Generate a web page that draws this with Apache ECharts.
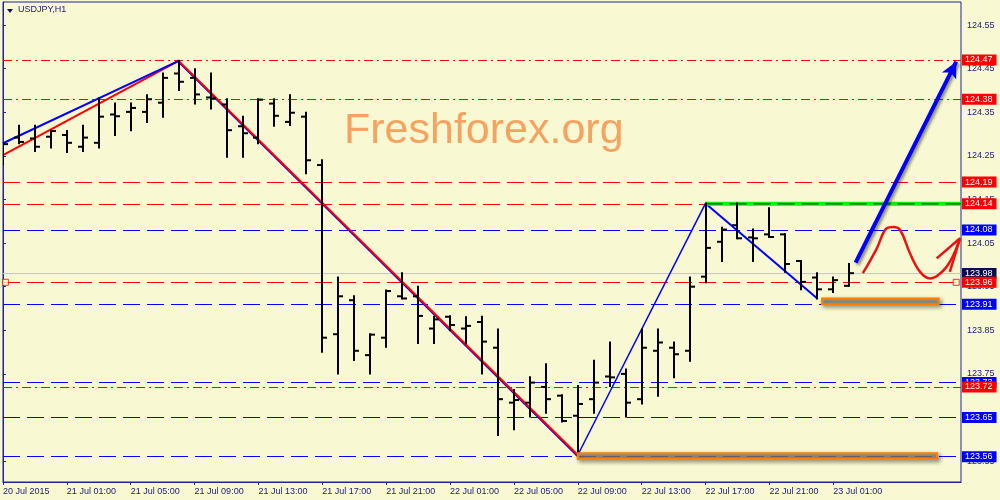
<!DOCTYPE html>
<html>
<head>
<meta charset="utf-8">
<script src="https://cdn.jsdelivr.net/npm/echarts@6.0.0/dist/echarts.min.js"></script>
<style>
  html, body { margin: 0; padding: 0; background: #f8f8d2; }
  #chart { width: 1000px; height: 500px; }
</style>
</head>
<body>
<div id="chart"></div>
<script>
// USDJPY H1, one bar per hour, bar 0 = 20 Jul 21:00
const timeLabels = ['20 Jul 2015', '21 Jul 01:00', '21 Jul 05:00', '21 Jul 09:00', '21 Jul 13:00',
  '21 Jul 17:00', '21 Jul 21:00', '22 Jul 01:00', '22 Jul 05:00', '22 Jul 09:00',
  '22 Jul 13:00', '22 Jul 17:00', '22 Jul 21:00', '23 Jul 01:00'];
const timeTicks = [0, 4, 8, 12, 16, 20, 24, 28, 32, 36, 40, 44, 48, 52];
const priceTicks = [123.55, 123.65, 123.75, 123.85, 123.95, 124.05, 124.15, 124.25, 124.35, 124.45, 124.55];

const opens = [124.245, 124.292, 124.290, 124.294, 124.298, 124.271, 124.280, 124.345, 124.351, 124.351,
  124.372, 124.439, 124.429, 124.384, 124.368, 124.318, 124.292, 124.370, 124.328, 124.340,
  124.229, 123.841, 123.919, 123.793, 123.833, 123.928, 123.928, 123.854, 123.881, 123.854,
  123.869, 123.810, 123.684, 123.684, 123.720, 123.700, 123.654, 123.692, 123.744, 123.750,
  123.692, 123.803, 123.810, 123.803, 123.973, 124.053, 124.091, 124.063, 124.070, 124.070,
  124.009, 123.971, 123.944, 123.952];
const highs = [124.279, 124.319, 124.319, 124.307, 124.307, 124.319, 124.382, 124.370, 124.370, 124.389,
  124.439, 124.468, 124.449, 124.439, 124.380, 124.340, 124.380, 124.380, 124.389, 124.349,
  124.240, 123.971, 123.928, 123.841, 123.941, 123.981, 123.950, 123.881, 123.882, 123.880,
  123.881, 123.852, 123.713, 123.742, 123.772, 123.701, 123.722, 123.780, 123.822, 123.760,
  123.852, 123.852, 123.822, 123.971, 124.141, 124.085, 124.141, 124.081, 124.130, 124.070,
  124.009, 123.981, 123.971, 124.002];
const lows = [124.231, 124.279, 124.261, 124.269, 124.259, 124.261, 124.269, 124.298, 124.309, 124.328,
  124.340, 124.401, 124.370, 124.359, 124.248, 124.248, 124.279, 124.319, 124.321, 124.210,
  123.801, 123.751, 123.782, 123.751, 123.812, 123.923, 123.821, 123.821, 123.850, 123.820,
  123.751, 123.610, 123.623, 123.652, 123.661, 123.641, 123.564, 123.661, 123.722, 123.652,
  123.682, 123.700, 123.742, 123.780, 123.960, 124.009, 124.061, 124.009, 124.064, 123.984,
  123.944, 123.923, 123.938, 123.952];
const closes = [124.277, 124.282, 124.271, 124.307, 124.280, 124.292, 124.340, 124.341, 124.360, 124.380,
  124.429, 124.420, 124.391, 124.382, 124.309, 124.302, 124.379, 124.342, 124.349, 124.240,
  123.833, 123.928, 123.803, 123.840, 123.940, 123.923, 123.883, 123.875, 123.862, 123.860,
  123.824, 123.692, 123.690, 123.730, 123.692, 123.642, 123.681, 123.730, 123.742, 123.684,
  123.810, 123.822, 123.795, 123.950, 124.039, 124.081, 124.061, 124.061, 124.064, 124.002,
  123.961, 123.944, 123.965, 123.981];

// horizontal levels
const redDashDotLevels = [124.47, 124.38, 123.72];
const redDashLevels = [124.19, 124.14, 123.96];
const blueDashLevels = [124.08, 123.91, 123.73, 123.65, 123.56];
const bidPrice = 123.98;

// drawn objects [barIndex, price]
const upRedLine = [[0, 124.252], [11, 124.468]];
const upBlueLine = [[0, 124.279], [11, 124.468]];
const downBlueLine = [[11, 124.466], [36, 123.561]];
const downRedLine = [[11, 124.468], [36, 123.564]];
const riseLine = [[36, 123.564], [44, 124.141]];
const pullbackLine = [[44, 124.141], [51, 123.923]];
const resistLine = [[44, 124.14], [60, 124.14]];
const forecastArrow = [[53.4, 124.005], [59.7, 124.466]];
const scenarioPath = [[53.85, 123.981], [54.25, 124.006], [54.73, 124.038], [55.35, 124.084],
  [55.77, 124.087], [56.19, 124.080], [56.81, 124.026], [57.44, 123.984], [58.06, 123.969],
  [58.58, 123.977], [59.11, 123.996], [59.52, 124.022], [59.94, 124.061]];
const scenarioHead = [[58.48, 124.015], [59.94, 124.061], [59.3, 123.984]];
const supportBoxes = [[[51.3, 123.923], [58.6, 123.910]], [[36, 123.568], [58.5, 123.555]]];
const selMarks = [[0.15, 123.96], [59.7, 123.96]];

const FONT = 'Liberation Sans';
const NAVY = '#1a1a78';
const FRAME = '#2222a0';

function levelLine(v, color, type, bg) {
  return {
    yAxis: v,
    lineStyle: { color: color, type: type, width: 1 },
    label: {
      show: true, position: 'end', distance: 1, formatter: v.toFixed(2),
      color: '#fff', backgroundColor: bg, fontFamily: FONT, fontSize: 9,
      lineHeight: 10, padding: [0, 4, 1, 3]
    }
  };
}

const levelData = [];
blueDashLevels.forEach(v => levelData.push(levelLine(v, '#0000ff', [17, 7], '#0000ff')));
levelData.push(levelLine(bidPrice, '#c8c8c8', 'solid', '#0c0c48'));
redDashLevels.forEach(v => levelData.push(levelLine(v, '#ff0000', [17, 7], '#ff0000')));
redDashDotLevels.forEach(v => levelData.push(levelLine(v, '#ff0000', [9, 4, 2, 4], '#ff0000')));

const bars = opens.map((o, i) => [i, o, highs[i], lows[i], closes[i]]);

function trend(data, color, width, z) {
  return {
    type: 'line', data: data, showSymbol: false, symbol: 'none', z: z || 4,
    lineStyle: { color: color, width: width }, silent: true, animation: false
  };
}

const chart = echarts.init(document.getElementById('chart'));
chart.setOption({
  backgroundColor: '#f8f8d2',
  animation: false,
  grid: {
    left: 3, right: 39, top: 2, bottom: 18,
    show: true, borderColor: FRAME, borderWidth: 1, backgroundColor: 'transparent'
  },
  xAxis: {
    type: 'value', min: 0, max: 60,
    axisLine: { show: true, onZero: false, lineStyle: { color: FRAME } },
    axisTick: { show: true, length: 3, customValues: timeTicks, lineStyle: { color: FRAME } },
    axisLabel: {
      customValues: timeTicks, align: 'left', margin: 5, color: NAVY,
      fontFamily: FONT, fontSize: 9,
      formatter: v => timeLabels[timeTicks.indexOf(Math.round(v))] || ''
    },
    splitLine: { show: false }
  },
  yAxis: {
    type: 'value', position: 'right', min: 123.502, max: 124.603, scale: true,
    axisLine: { show: true, lineStyle: { color: FRAME } },
    axisTick: { show: true, length: 3, customValues: priceTicks, lineStyle: { color: FRAME } },
    axisLabel: {
      customValues: priceTicks, margin: 6, color: NAVY, fontFamily: FONT, fontSize: 9,
      formatter: v => v.toFixed(2)
    },
    splitLine: { show: false }
  },
  graphic: [
    {
      type: 'polygon', shape: { points: [[7, 9], [13, 9], [10, 13]] },
      style: { fill: '#10105a' }
    },
    {
      type: 'text', left: 18, top: 5,
      style: { text: 'USDJPY,H1', fill: NAVY, font: '9px "Liberation Sans"' }
    },
    {
      type: 'text', left: 344, top: 110, z: 0,
      style: { text: 'Freshforex.org', fill: '#f4a460', font: '43px "Liberation Sans"' }
    }
  ],
  series: [
    {
      type: 'line', data: [[0, bidPrice], [60, bidPrice]], symbol: 'none', z: 1,
      lineStyle: { color: '#c8c8c8', width: 1 }, silent: true,
      markLine: { symbol: 'none', silent: true, z: 1, animation: false, data: levelData }
    },
    trend(upRedLine, '#ff0000', 2),
    trend(upBlueLine, '#0000ff', 2),
    trend(downBlueLine, '#0000ff', 2),
    trend(downRedLine, '#ff0000', 2),
    trend(riseLine, '#0000ff', 1.5),
    trend(pullbackLine, '#0000ff', 2),
    trend(resistLine, '#11ee11', 4),
    {
      type: 'line', data: resistLine, symbol: 'none', z: 5, silent: true,
      lineStyle: { color: '#222', width: 1, type: [17, 7] }
    },
    {
      type: 'custom', z: 6, clip: true, silent: true,
      data: bars,
      renderItem: function (params, api) {
        const i = api.value(0);
        const o = api.coord([i, api.value(1)]);
        const h = api.coord([i, api.value(2)]);
        const l = api.coord([i, api.value(3)]);
        const c = api.coord([i, api.value(4)]);
        const x = Math.round(o[0]);
        const st = { stroke: '#000', lineWidth: 2 };
        return {
          type: 'group',
          children: [
            { type: 'line', shape: { x1: x, y1: h[1] - 1, x2: x, y2: l[1] + 1 }, style: st },
            { type: 'line', shape: { x1: x - 5, y1: o[1], x2: x, y2: o[1] }, style: st },
            { type: 'line', shape: { x1: x, y1: c[1], x2: x + 5, y2: c[1] }, style: st }
          ]
        };
      }
    },
    {
      type: 'line', data: supportBoxes[0][0] ? [supportBoxes[0][0]] : [], symbol: 'none', z: 7,
      lineStyle: { opacity: 0 }, silent: true,
      markArea: {
        silent: true, z: 7,
        itemStyle: {
          color: 'rgba(150,150,130,0.75)', borderColor: '#ff8000', borderWidth: 2,
          shadowBlur: 4, shadowColor: 'rgba(0,0,0,0.45)', shadowOffsetX: 2, shadowOffsetY: 2
        },
        data: supportBoxes.map(b => [{ coord: b[0] }, { coord: b[1] }])
      }
    },
    {
      type: 'line', data: forecastArrow, symbol: 'none', z: 8, silent: true,
      lineStyle: { opacity: 0 },
      markLine: {
        silent: true, z: 8, animation: false, symbol: ['none', 'arrow'], symbolSize: [12, 16],
        label: { show: false },
        lineStyle: {
          color: '#0000ff', width: 4, type: 'solid',
          shadowBlur: 3, shadowColor: 'rgba(0,0,0,0.45)', shadowOffsetX: 2, shadowOffsetY: 2
        },
        data: [[{ coord: forecastArrow[0] }, { coord: forecastArrow[1] }]]
      }
    },
    {
      type: 'line', data: scenarioPath, smooth: 0.4, symbol: 'none', z: 8, silent: true,
      lineStyle: { color: '#ee1111', width: 2.5 }
    },
    {
      type: 'line', data: scenarioHead, symbol: 'none', z: 8, silent: true,
      lineStyle: { color: '#ee1111', width: 2.5 }
    },
    {
      type: 'scatter', data: selMarks, symbol: 'rect', symbolSize: 6, z: 9, silent: true,
      itemStyle: { color: '#f8f8d2', borderColor: '#ff0000', borderWidth: 1 }
    }
  ]
});
</script>
</body>
</html>
